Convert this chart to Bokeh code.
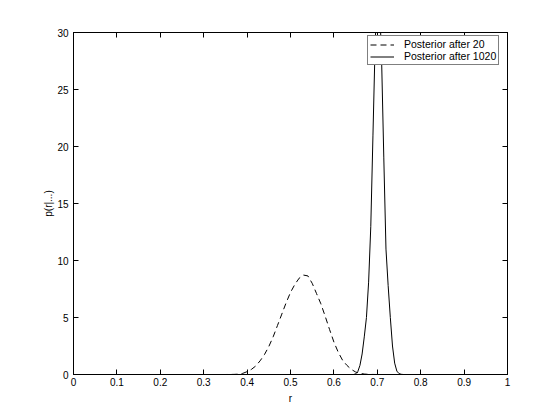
from bokeh.plotting import figure
from bokeh.models import Range1d, LinearAxis, FixedTicker, CustomJSTickFormatter, Legend, LegendItem
from bokeh.embed import file_html
from bokeh.resources import INLINE

# Posterior after 20 observations (dashed)
r_20 = [0.18, 0.25, 0.30, 0.35, 0.37, 0.38, 0.39, 0.40, 0.41, 0.42, 0.43, 0.44, 0.45,
        0.46, 0.47, 0.48, 0.49, 0.50, 0.51, 0.52, 0.53, 0.54, 0.55, 0.56, 0.57, 0.58,
        0.59, 0.60, 0.61, 0.62, 0.63, 0.64, 0.65, 0.66, 0.67, 0.68, 0.70, 0.75, 0.80, 0.86]
p_20 = [0.0, 0.0, 0.0, 0.0, 0.01, 0.03, 0.1, 0.25, 0.45, 0.75, 1.2, 1.75, 2.45,
        3.3, 4.3, 5.3, 6.3, 7.2, 7.9, 8.45, 8.72, 8.65, 8.0, 7.1, 6.2, 5.1,
        3.95, 2.85, 1.95, 1.25, 0.8, 0.45, 0.22, 0.1, 0.04, 0.01, 0.0, 0.0, 0.0, 0.0]

# Posterior after 1020 observations (solid)
r_1020 = [0.59, 0.62, 0.645, 0.650, 0.655, 0.660, 0.665, 0.670, 0.675, 0.680, 0.685,
          0.690, 0.695, 0.700, 0.705, 0.710, 0.715, 0.720, 0.725, 0.730, 0.735, 0.740,
          0.745, 0.750, 0.755, 0.760, 0.80, 0.84]
p_1020 = [0.0, 0.0, 0.0, 0.05, 0.25, 0.8, 1.8, 3.3, 5.0, 8.1, 13.0,
          21.0, 29.0, 33.5, 33.0, 27.5, 19.0, 11.0, 7.8, 5.0, 2.5, 1.0,
          0.3, 0.08, 0.02, 0.0, 0.0, 0.0]

x_ticks = [0, 0.1, 0.2, 0.3, 0.4, 0.5, 0.6, 0.7, 0.8, 0.9, 1]
x_tick_labels = ["0", "0.1", "0.2", "0.3", "0.4", "0.5", "0.6", "0.7", "0.8", "0.9", "1"]
y_ticks = [0, 5, 10, 15, 20, 25, 30]

labels = ["Posterior after 20", "Posterior after 1020"]

FONT = "Liberation Sans"

p = figure(frame_width=434, frame_height=342,
           x_range=Range1d(0, 1), y_range=Range1d(0, 30),
           output_backend="svg", toolbar_location=None,
           min_border_left=73, min_border_right=45, min_border_top=32, min_border_bottom=38,
           background_fill_color="white", border_fill_color="white")
p.xgrid.visible = False
p.ygrid.visible = False
p.outline_line_color = "black"

r1 = p.line(r_20, p_20, line_color="black", line_width=1, line_dash="6 4")
r2 = p.line(r_1020, p_1020, line_color="black", line_width=1)

def style_axis(ax):
    ax.axis_line_color = "black"
    ax.major_tick_line_color = "black"
    ax.major_tick_in = 5
    ax.major_tick_out = 0
    ax.minor_tick_line_color = None
    ax.major_label_text_font = FONT
    ax.major_label_text_font_size = "10px"
    ax.major_label_text_color = "black"
    ax.axis_label_text_font = FONT
    ax.axis_label_text_font_size = "10px"
    ax.axis_label_text_font_style = "normal"
    ax.axis_label_text_color = "black"

xa = p.xaxis[0]
xa.ticker = FixedTicker(ticks=x_ticks)
xa.major_label_overrides = {t: l for t, l in zip(x_ticks, x_tick_labels)}
xa.axis_label = "r"
style_axis(xa)
xa.major_label_standoff = 3
xa.axis_label_standoff = 4

ya = p.yaxis[0]
ya.ticker = FixedTicker(ticks=y_ticks)
ya.axis_label = "p(r|...)"
style_axis(ya)
ya.major_label_standoff = 5
ya.axis_label_standoff = 0

blank = CustomJSTickFormatter(code="return ''")
top = LinearAxis(ticker=FixedTicker(ticks=x_ticks), formatter=blank)
style_axis(top)
top.major_label_standoff = 0
p.add_layout(top, "above")
right = LinearAxis(ticker=FixedTicker(ticks=y_ticks), formatter=blank)
style_axis(right)
right.major_label_standoff = 0
p.add_layout(right, "right")

legend = Legend(items=[LegendItem(label=labels[0], renderers=[r1]),
                       LegendItem(label=labels[1], renderers=[r2])],
                location=(294, 309))
legend.margin = 0
legend.padding = 2
legend.spacing = 0
legend.label_standoff = 10
legend.glyph_width = 24
legend.glyph_height = 11
legend.label_height = 11
legend.label_text_font = FONT
legend.label_text_font_size = "10.5px"
legend.label_text_color = "black"
legend.border_line_color = "black"
legend.border_line_width = 1
legend.background_fill_color = "white"
legend.background_fill_alpha = 1
p.add_layout(legend)

open("out.html", "w").write(file_html(p, INLINE))
